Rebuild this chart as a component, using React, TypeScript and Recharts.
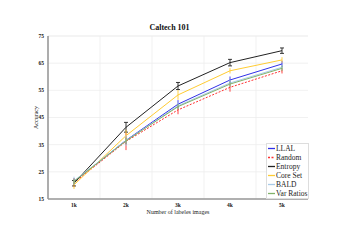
import React from 'react';
import { LineChart, Line, XAxis, YAxis, CartesianGrid, ErrorBar, ReferenceLine, Label } from 'recharts';

// x positions in thousands of labelled images
const sizes = [1, 2, 3, 4, 5];
const yTicks = [15, 25, 35, 45, 55, 65, 75];
const halfGrid = [1.5, 2.5, 3.5, 4.5];

const llal = [21.4, 36.6, 49.9, 58.8, 64.7];
const llalErr = [1.2, 1.5, 1.5, 1.3, 1.2];
const random = [21.0, 36.2, 47.8, 56.1, 62.2];
const randomErr = [1.6, 3.2, 1.6, 1.6, 1.0];
const entropy = [20.8, 41.4, 56.6, 65.2, 69.6];
const entropyErr = [1.0, 1.8, 1.3, 1.2, 1.0];
const coreSet = [20.2, 38.3, 53.3, 62.2, 66.2];
const coreSetErr = [1.5, 2.2, 1.8, 1.0, 1.0];
const bald = [21.7, 36.5, 49.3, 57.7, 63.5];
const baldErr = [1.5, 2.0, 1.2, 1.2, 1.0];
const varRatios = [21.5, 36.4, 49.0, 57.3, 63.1];
const varRatiosErr = [1.0, 1.2, 1.0, 1.0, 1.0];

const series = [
  { key: 'LLAL', color: '#3030e8', dash: undefined as string | undefined, cap: 0 },
  { key: 'Random', color: '#ff3030', dash: '2 1.5', cap: 0 },
  { key: 'Entropy', color: '#222222', dash: undefined, cap: 2 },
  { key: 'Core Set', color: '#ffcc33', dash: undefined, cap: 0 },
  { key: 'BALD', color: '#a8cbe8', dash: undefined, cap: 0 },
  { key: 'Var Ratios', color: '#82b26a', dash: undefined, cap: 0 },
];

const data = sizes.map((x, i) => ({
  x,
  LLAL: llal[i], LLAL_e: llalErr[i],
  Random: random[i], Random_e: randomErr[i],
  Entropy: entropy[i], Entropy_e: entropyErr[i],
  'Core Set': coreSet[i], 'Core Set_e': coreSetErr[i],
  BALD: bald[i], BALD_e: baldErr[i],
  'Var Ratios': varRatios[i], 'Var Ratios_e': varRatiosErr[i],
}));

const serif = '"Liberation Serif", "DejaVu Serif", serif';

function ChartLegend() {
  return (
    <div style={{ position: 'absolute', left: 266, top: 143, border: '1px solid #dddddd', background: '#fff', padding: '0px 1px 0px 1px', fontFamily: serif, fontSize: 7.5, lineHeight: '9px', color: '#222' }}>
      {series.map((s) => (
        <div key={s.key} style={{ display: 'flex', alignItems: 'center', whiteSpace: 'nowrap', height: 9 }}>
          <svg width={7} height={9} style={{ marginRight: 1 }}>
            <line x1={0} y1={4.5} x2={7} y2={4.5} stroke={s.color} strokeWidth={1.3} strokeDasharray={s.dash ? '2 1.5' : undefined} />
          </svg>
          {s.key}
        </div>
      ))}
    </div>
  );
}

export default function App() {
  return (
    <div style={{ position: 'relative', width: 339, height: 240, background: '#fff' }}>
      <style>{'body{margin:0}'}</style>
      <LineChart width={339} height={240} data={data} margin={{ top: 36, right: 31, bottom: 11, left: 28 }}>
        <text x={169.5} y={30} textAnchor="middle" style={{ fontFamily: serif, fontSize: 8, fontWeight: 'bold', fill: '#111' }}>Caltech 101</text>
        <CartesianGrid vertical={false} stroke="#eeeeee" strokeWidth={0.8} />
        {halfGrid.map((g) => (
          <ReferenceLine key={g} x={g} stroke="#eeeeee" strokeWidth={0.8} />
        ))}
        <ReferenceLine y={75} stroke="#eeeeee" strokeWidth={0.8} />
        <XAxis
          dataKey="x"
          type="number"
          domain={[0.5, 5.5]}
          ticks={sizes}
          tickFormatter={(v: number) => `${v}k`}
          axisLine={{ stroke: '#999999', strokeWidth: 1.6 }}
          tickLine={false}
          tickSize={0}
          tick={{ fontFamily: serif, fontSize: 5.5, fontWeight: 'bold', fill: '#222' }}
          tickMargin={4}
          height={30}
        >
          <Label value="Number of labeles images" position="insideBottom" offset={15} style={{ fontFamily: serif, fontSize: 6, fill: '#222' }} />
        </XAxis>
        <YAxis
          type="number"
          domain={[15, 75]}
          ticks={yTicks}
          axisLine={{ stroke: '#999999', strokeWidth: 1.6 }}
          tickLine={false}
          tickSize={0}
          tick={{ fontFamily: serif, fontSize: 5.5, fontWeight: 'bold', fill: '#222' }}
          tickMargin={4}
          width={20}
        >
          <Label value="Accuracy" angle={-90} position="insideLeft" offset={8} style={{ fontFamily: serif, fontSize: 6, fill: '#222', textAnchor: 'middle' }} />
        </YAxis>
        {series.map((s) => (
          <Line
            key={s.key}
            dataKey={s.key}
            stroke={s.color}
            strokeWidth={1}
            strokeDasharray={s.dash}
            dot={false}
            activeDot={false}
            isAnimationActive={false}
          >
            <ErrorBar dataKey={`${s.key}_e`} direction="y" width={s.cap} stroke={s.color} strokeWidth={0.9} isAnimationActive={false} />
          </Line>
        ))}
      </LineChart>
      <ChartLegend />
    </div>
  );
}
